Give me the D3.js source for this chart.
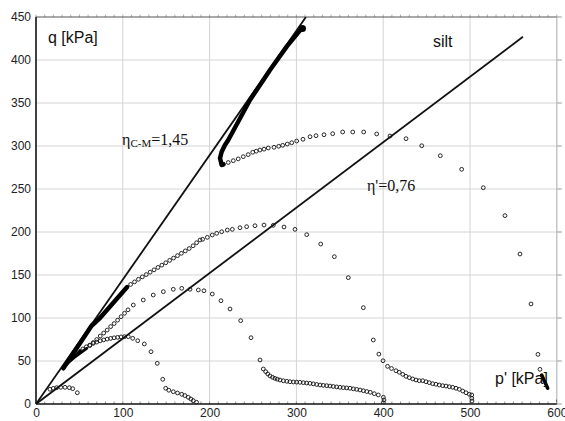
<!DOCTYPE html>
<html><head><meta charset="utf-8">
<script src="https://cdn.jsdelivr.net/npm/d3@7"></script>
<style>body{margin:0;background:#fff}svg{display:block}</style>
</head><body><svg id="c" width="565" height="421"></svg>
<script>
// ---- data ----
const xTicks = [0,100,200,300,400,500,600];
const yTicks = [0,50,100,150,200,250,300,350,400,450];
const lineCSL = [[0,0],[311,450]];      // eta C-M = 1.45
const lineEta = [[0,0],[561,427]];      // eta' = 0.76

// test p0 = 600
const path1Pts = [[602,3.8],[580.6,40.3],[578.3,57.7],[570.3,116.3],[557.6,174.4],[540.3,219],[515.3,251.5],[490.4,272.9],[465.8,288.7],[444.4,300.3],[426.3,308.5],[407.8,311.6],[392.5,314],[377.5,316.3],[364.9,316.3],[353.3,316.3],[341.8,314.3],[331.8,313.1],[322.6,312],[315.7,310.8],[307.6,307.8],[300.3,305.8],[294.6,303.8],[289.5,302.3],[284.2,300.8],[279.6,299.7],[274.2,298.5],[267.6,297.7],[262.7,296.3],[258,295.3],[253.8,294],[249.7,292.7],[244.5,290],[238.8,287.6],[233,285],[227.3,282.9],[221.5,280.8],[215.8,278.7]];
const path1Bold = [[215.8,278.7],[213.9,277.9],[212,285.7],[213.9,293.4],[217.7,301.2],[221.5,307],[246.5,353.5],[269.6,388.4],[288.8,415.5],[306,436.8]];
const path1Start = [[582.6,33.7],[589.5,18.3]];
const path1End = [[307,436.5]];

// test p0 = 500
const path2Bold = [[31.5,41.5],[64,91],[73.7,100],[105,136]];
const path2Pts = [[109,139],[113.5,142],[118,145],[122.5,147.8],[127,150.5],[131.5,153.3],[136,156],[140.5,158.8],[145,161.5],[149.5,164.2],[154,167],[158.5,169.7],[163,172.5],[167.5,175.2],[172,178],[176.5,180.8],[181,184],[185,187.5],[189,190.7],[192,191.5],[197.4,193.8],[203.1,196.5],[208.2,198.5],[213.9,200.3],[220.4,202.3],[226.2,203.1],[235,205],[242.7,206.2],[252.3,207.3],[262.7,208.1],[273.4,207.8],[285.7,205.8],[298.4,203.1],[311.9,196.9],[328,186],[343.7,171.3],[359.8,146.9],[377.1,112],[388.6,74.4],[395,58],[399.8,50.3],[405,43.8],[409.6,41.3],[414.7,38.7],[418.5,36.9],[422.5,34.5],[426.3,32.2],[430.1,30.6],[434,29.1],[437.8,27.9],[441.6,27.1],[445.5,27.1],[449.3,25.9],[453.1,24.8],[457,23.6],[460.8,22.9],[464.6,22.1],[468.5,21.3],[472.4,20.9],[476.2,20.1],[480.1,19.4],[483.9,18.3],[487.7,17.1],[491.6,15.1],[495.4,13.1],[499.2,11.3],[502,10.5],[502,6.6],[502.3,3.5]];

// test p0 = 400
const path3Bold = [[35,47],[45,55],[58.4,64.7]];
const path3Pts = [[62,68],[66,71.5],[70,75],[74,79],[78,82.5],[82,86],[86,90],[90,93.5],[94,97.5],[98,101.5],[102,105.5],[106,109.5],[112.1,115.1],[123.6,120.9],[135.1,126.7],[146.7,130.6],[158.2,133.4],[167.9,134.5],[177.4,133.4],[187,132.6],[193.5,131.7],[203.1,127.9],[213.1,120.1],[223.5,110.5],[235.8,96.9],[247.7,77.1],[258.1,51.2],[261.9,40.7],[264.6,37.6],[267,35],[269.6,32.6],[272.5,31],[275.3,29.8],[278,28.8],[281.1,27.9],[285,27],[289,26.4],[292.6,25.9],[296.5,25.6],[300.3,25.4],[304.1,25.2],[308,24.8],[311.8,24.4],[315.7,24],[319.5,23.4],[323.4,22.7],[327.2,22.1],[331,21.7],[334.9,21.3],[338.7,20.9],[342.5,20.4],[346.4,19.9],[350.2,19.4],[354,19],[357.9,18.7],[361.8,18.3],[365.6,17.6],[369.5,17],[373.3,16.3],[377.2,15.4],[381.1,14.5],[385.1,13.6],[389.7,12],[394.4,10.5],[400.2,7.8],[400.9,4.7],[400.1,1.5]];

// test p0 = 200
const path4Bold = [[35,46],[44,55],[50.7,62]];
const path4Pts = [[54,64],[58,66.5],[62,68.5],[66,70.5],[70,72],[74,73.5],[78,74.5],[82,75.5],[86,76.3],[90,77],[94,77.5],[98,78],[102,78.3],[106.3,78.3],[111.4,76.4],[117.2,73.6],[124.8,69.8],[132.5,60.8],[139.7,47.3],[146,28.7],[149.4,18.3],[153,16],[158.2,14.3],[163,12.8],[167.9,11.3],[171.5,9.8],[175.5,7.8],[178.5,5.8],[181.2,3.9],[185,2]];

// test p0 = 50
const path5Pts = [[16.1,17.1],[19.9,18.2],[23.8,19],[28.5,19.4],[33.4,19.4],[38.4,19],[42.3,17.8],[47.6,13.1]];

// ---- drawing ----
const svg = d3.select('#c');
const x = d3.scaleLinear([0,600],[36,556.8]);
const y = d3.scaleLinear([0,450],[404,17]);
const line = d3.line().x(d=>x(d[0])).y(d=>y(d[1]));

svg.append('rect').attr('width',565).attr('height',421).attr('fill','#fff');

// grid
const grid = svg.append('g');
grid.selectAll('.gx').data(xTicks.filter(v=>v>0)).join('line')
  .attr('x1',d=>x(d)).attr('x2',d=>x(d)).attr('y1',y(0)).attr('y2',y(450))
  .attr('stroke','#d4d4d4').attr('stroke-width',1);
grid.selectAll('.gy').data(yTicks.filter(v=>v>0 && v<450)).join('line')
  .attr('x1',x(0)).attr('x2',x(600)).attr('y1',d=>y(d)).attr('y2',d=>y(d))
  .attr('stroke','#d4d4d4').attr('stroke-width',1);

// minor ticks
const minorX = d3.range(0,601,10);
svg.append('g').selectAll('line').data(minorX).join('line')
  .attr('x1',d=>x(d)).attr('x2',d=>x(d)).attr('y1',y(0)).attr('y2',y(0)-2.5)
  .attr('stroke','#777').attr('stroke-width',0.8);
svg.append('g').selectAll('line').data(minorX).join('line')
  .attr('x1',d=>x(d)).attr('x2',d=>x(d)).attr('y1',y(450)).attr('y2',y(450)-2.5)
  .attr('stroke','#999').attr('stroke-width',0.8);
svg.append('g').selectAll('line').data(yTicks).join('line')
  .attr('x1',x(600)).attr('x2',x(600)+5).attr('y1',d=>y(d)).attr('y2',d=>y(d))
  .attr('stroke','#999').attr('stroke-width',1);

// axes
const ax = svg.append('g').attr('transform',`translate(0,${y(0)})`)
  .call(d3.axisBottom(x).tickValues(xTicks).tickSize(0).tickPadding(4).tickFormat(d3.format('d')));
const ay = svg.append('g').attr('transform',`translate(${x(0)},0)`)
  .call(d3.axisLeft(y).tickValues(yTicks).tickSize(0).tickPadding(5).tickFormat(d3.format('d')));
[ax,ay].forEach(g=>{
  g.select('.domain').remove();
  g.selectAll('text').attr('font-family','Arial, "Liberation Sans", sans-serif').attr('font-size',12).attr('fill','#222');
});
// frame
svg.append('line').attr('x1',x(0)).attr('x2',x(600)).attr('y1',y(450)).attr('y2',y(450)).attr('stroke','#555').attr('stroke-width',1);
svg.append('line').attr('x1',x(600)).attr('x2',x(600)).attr('y1',y(450)).attr('y2',y(0)).attr('stroke','#bbb').attr('stroke-width',1);
svg.append('line').attr('x1',x(0)).attr('x2',x(600)).attr('y1',y(0)).attr('y2',y(0)).attr('stroke','#111').attr('stroke-width',1.6);
svg.append('line').attr('x1',x(0)).attr('x2',x(0)).attr('y1',y(450)).attr('y2',y(0)).attr('stroke','#111').attr('stroke-width',1.6);

// plot clip
svg.append('clipPath').attr('id','clip').append('rect')
  .attr('x',x(0)).attr('y',y(450)).attr('width',x(600)-x(0)).attr('height',y(0)-y(450));
const plot = svg.append('g').attr('clip-path','url(#clip)');

// reference lines
[lineCSL,lineEta].forEach(l=>plot.append('path').attr('d',line(l)).attr('fill','none').attr('stroke','#111').attr('stroke-width',1.8));

// bold dense parts
[[path1Bold,4.5],[path1Start,3.5],[path2Bold,4.5],[path3Bold,3],[path4Bold,3]].forEach(([d,w])=>
  plot.append('path').attr('d',line(d)).attr('fill','none').attr('stroke','#000').attr('stroke-width',w).attr('stroke-linecap','round').attr('stroke-linejoin','round'));
plot.selectAll('.end').data(path1End).join('circle').attr('cx',d=>x(d[0])).attr('cy',d=>y(d[1])).attr('r',3.5).attr('fill','#000');

// open circle markers
[path1Pts,path2Pts,path3Pts,path4Pts,path5Pts].forEach(pts=>
  plot.append('g').selectAll('circle').data(pts).join('circle')
    .attr('cx',d=>x(d[0])).attr('cy',d=>y(d[1])).attr('r',1.9)
    .attr('fill','none').attr('stroke','#111').attr('stroke-width',0.9));

// labels
const sans = 'Arial, "Liberation Sans", sans-serif';
const serif = '"Times New Roman", "Liberation Serif", serif';
svg.append('text').attr('x',48).attr('y',43).attr('font-family',sans).attr('font-size',16).attr('fill','#111').text('q [kPa]');
svg.append('text').attr('x',433).attr('y',47).attr('font-family',sans).attr('font-size',16).attr('fill','#111').text('silt');
svg.append('text').attr('x',495).attr('y',384).attr('font-family',sans).attr('font-size',16).attr('fill','#111').text("p' [kPa]");
const t1 = svg.append('text').attr('x',122).attr('y',145).attr('font-family',serif).attr('font-size',16).attr('fill','#111');
t1.append('tspan').text('η');
t1.append('tspan').attr('font-size',11).attr('dy',2).text('C-M');
t1.append('tspan').attr('dy',-2).text('=1,45');
svg.append('text').attr('x',367).attr('y',191).attr('font-family',serif).attr('font-size',16).attr('fill','#111').text("η'=0,76");
</script></body></html>
